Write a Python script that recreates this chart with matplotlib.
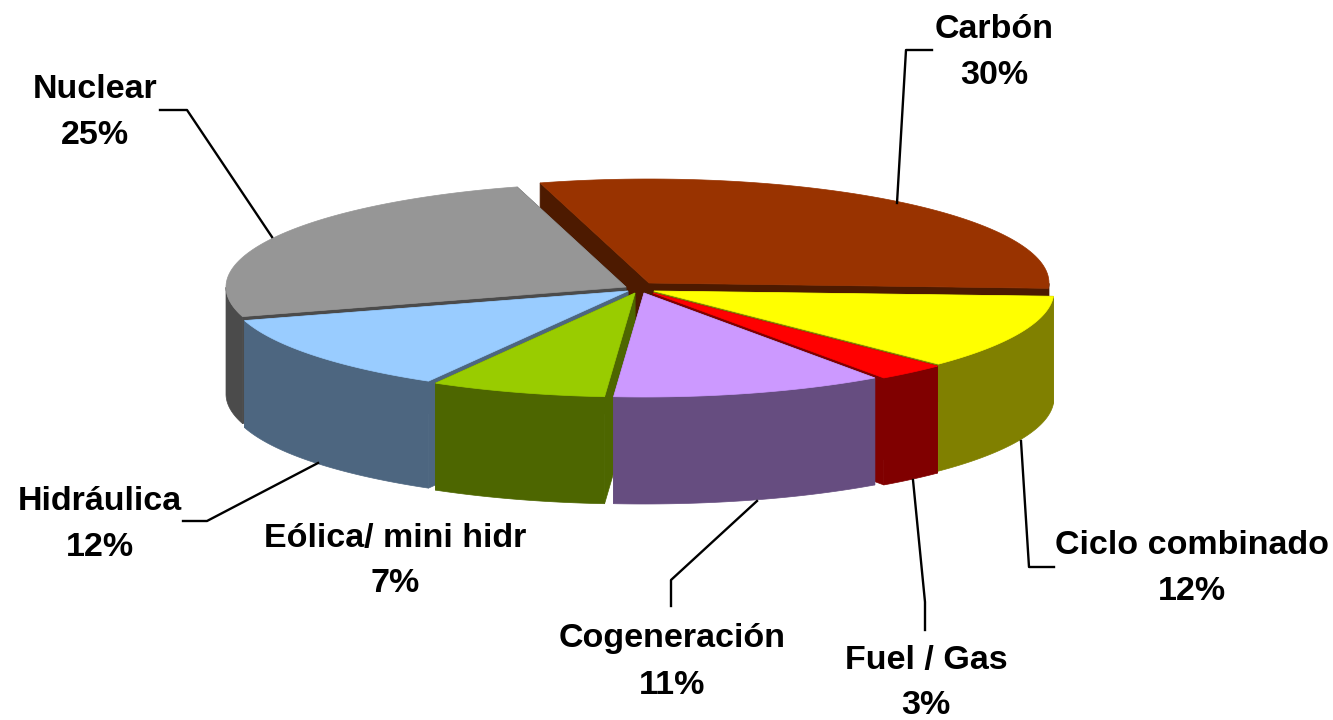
import matplotlib
matplotlib.use('Agg')
import matplotlib.pyplot as plt
import numpy as np

labels = ['Carbón', 'Ciclo combinado', 'Fuel / Gas', 'Cogeneración', 'Eólica/ mini hidr', 'Hidráulica', 'Nuclear']
values = [30.2, 11.6, 2.8, 11.0, 7.1, 12.1, 25.2]
top_colors = ['#993300', '#ffff00', '#ff0000', '#cc99ff', '#99cc00', '#99ccff', '#969696']
side_colors = ['#4d1a00', '#808000', '#800000', '#664d80', '#4d6600', '#4d6680', '#4b4b4b']

# vertice de cada porcion en pixeles (pie separado)
vertices = [(649, 283), (654, 291), (653, 293), (644, 293), (635, 293), (628, 291), (626, 287)]
rx, ry = 400, 104
depth = 107
start_angle = 105.8

label_xy = [(994, 29), (1192, 546), (926, 660), (672, 639), (395, 538), (100, 502), (95, 89)]
leaders = [
    [(897, 203), (906, 50), (932, 50)],
    [(1021, 441), (1029, 567), (1054, 567)],
    [(913, 480), (925, 602), (925, 630)],
    [(757, 501), (671, 580), (671, 606)],
    None,
    [(318, 463), (207, 521), (183, 521)],
    [(272, 237), (187, 110), (160, 110)],
]
line_gap = 46

plt.rcParams['font.family'] = ['Liberation Sans', 'DejaVu Sans']

fig = plt.figure(figsize=(13.33, 7.2), dpi=100)
ax = fig.add_axes([0, 0, 1, 1])
ax.set_xlim(0, 1333)
ax.set_ylim(720, 0)
ax.axis('off')

# angulos de cada porcion, sentido horario desde start_angle
ends = start_angle - np.cumsum(values) * 3.6
starts = np.concatenate(([start_angle], ends[:-1]))


def rim(center, a0, a1):
    t = np.radians(np.linspace(a0, a1, 80))
    return center[0] + rx * np.cos(t), center[1] - ry * np.sin(t)


# de atras hacia adelante
order = [0, 6, 1, 5, 2, 4, 3]
for n, i in enumerate(order):
    a0, a1 = starts[i], ends[i]
    c = vertices[i]
    x, y = rim(c, a0, a1)
    col = side_colors[i]

    # paredes radiales
    for px, py in [(x[0], y[0]), (x[-1], y[-1])]:
        ax.fill([c[0], px, px, c[0]], [c[1], py, py + depth, c[1] + depth],
                color=col, lw=0.5, zorder=n * 3 + 1)

    # pared exterior, solo la parte del frente
    t = np.linspace(a0, a1, 400)
    front = np.sin(np.radians(t)) < 0
    if front.any():
        wx, wy = rim(c, t[front][0], t[front][-1])
        ax.fill(np.concatenate((wx, wx[::-1])), np.concatenate((wy, wy[::-1] + depth)),
                color=col, lw=0.5, zorder=n * 3 + 2)

    # tapa
    ax.fill(np.concatenate(([c[0]], x)), np.concatenate(([c[1]], y)),
            color=top_colors[i], lw=0.5, zorder=n * 3 + 3)

for pts in leaders:
    if pts is not None:
        ax.plot([p[0] for p in pts], [p[1] for p in pts], color='black', lw=1.7, zorder=40)

for name, v, (tx, ty) in zip(labels, values, label_xy):
    ax.text(tx, ty, name, ha='center', va='center', fontsize=24.5, fontweight='bold', zorder=50)
    ax.text(tx, ty + line_gap, f'{round(v)}%', ha='center', va='center', fontsize=24.5,
            fontweight='bold', zorder=50)

fig.savefig('out.png', dpi=100)
